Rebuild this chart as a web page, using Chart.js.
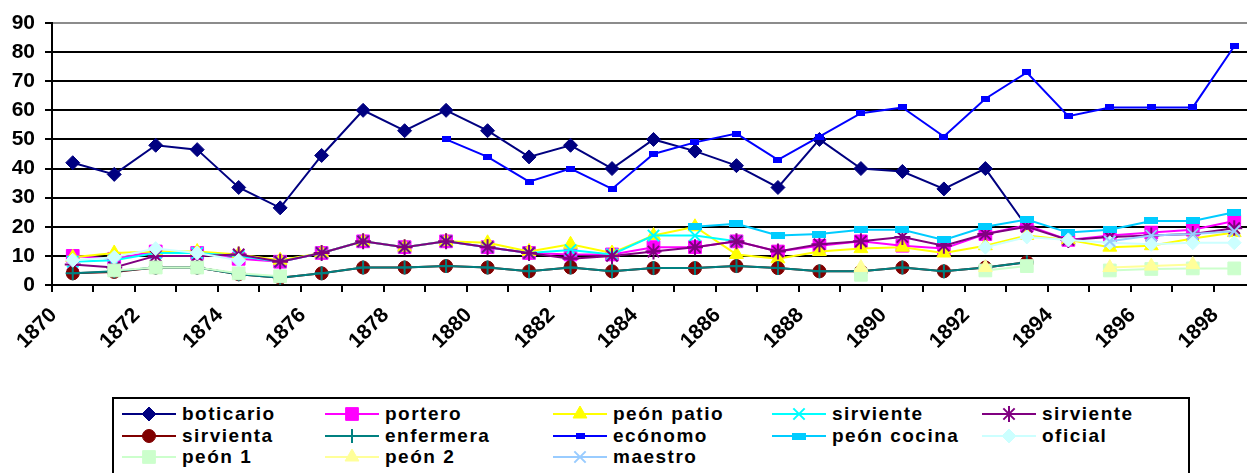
<!DOCTYPE html>
<html lang="es">
<head>
<meta charset="utf-8">
<title>Salarios 1870-1898</title>
<script src="https://cdn.jsdelivr.net/npm/chart.js@4.4.1/dist/chart.umd.min.js"></script>
<style>
    html, body { margin: 0; padding: 0; background: #fff; overflow: hidden; }
    body { width: 1247px; height: 473px; position: relative; font-family: "Liberation Sans", Arial, sans-serif; }
    #chartBox { position: absolute; left: 0; top: 0; width: 1265px; height: 380px; }
    #legend {
        position: absolute; left: 112px; top: 397px; width: 1078px; height: 78px;
        border: 2px solid #000; box-sizing: border-box; background: #fff;
    }
    .legend-item { position: absolute; height: 20px; display: flex; align-items: center; }
    .legend-item canvas { width: 54px; height: 20px; display: block; }
    .legend-item span {
        margin-left: 6px; font-weight: bold; font-size: 19px; letter-spacing: 1.5px;
        color: #000; white-space: nowrap; line-height: 20px;
    }
</style>
</head>
<body>
<div id="chartBox"><canvas id="salaryChart"></canvas></div>
<div id="legend"></div>

<script>
// ================= Data =================
const years = [
    "1870", "1871", "1872", "1873", "1874", "1875", "1876", "1877", "1878", "1879",
    "1880", "1881", "1882", "1883", "1884", "1885", "1886", "1887", "1888", "1889",
    "1890", "1891", "1892", "1893", "1894", "1895", "1896", "1897", "1898"
];
const yTicks = [0, 10, 20, 30, 40, 50, 60, 70, 80, 90];

const boticario = [42, 38, 48, 46.5, 33.5, 26.5, 44.5, 60, 53, 60, 53, 44, 48, 40, 50, 46, 41, 33.5, 50, 40,
    39, 33, 40, 20, null, null, null, null, null];
const portero = [10, 9, 11.5, 11, 9, 8, 11, 15, 13, 15, 13, 11, 10.5, 10.5, 13, 13, 15, 11.5, 13.5, 15,
    13.5, 12.5, 17.5, 20.5, 15.5, 17, 18, 19, 22];
const peonPatio = [9.5, 11, 11.5, 11.5, 10.5, 8.5, 11, 15, 13, 15, 14.5, 11.5, 14, 11, 17, 20, 10.5, 9, 11.5, 12.5,
    13, 11, 13.5, 17, 15.5, 13, 13.5, 16, 18];
const sirvienteCyan = [8, 8.5, 11, 11, 10, 8, 11, 15, 13, 15, 13, 11, 12, 10.5, 17, 17, 15, null, null, null,
    null, null, null, null, null, null, null, null, null];
const sirvientePurple = [7, 6, 10, 10, 10.5, 8, 11, 15, 13, 15, 13, 11, 9, 10, 11.5, 13, 15, 11.5, 14, 15,
    16.5, 13.5, 17.5, 20, 15.5, 16.5, 17, 17.5, 19.5];
const sirvienta = [4, 4.5, 6, 6, 3.7, 2.5, 4, 6, 6, 6.5, 6, 4.7, 6, 4.7, 5.8, 5.8, 6.5, 5.8, 4.7, 4.7,
    6, 4.7, 6, 7.8, null, null, null, null, null];
const enfermera = [4, 4.7, 6, 6, 3.7, 2.5, 4, 6, 6, 6.5, 6, 4.7, 6, 4.7, 5.8, 5.8, 6.5, 5.8, 4.7, 4.7,
    6, 4.7, 6, 7.8, null, null, null, null, null];
const economo = [null, null, null, null, null, null, null, null, null, 50, 44, 35.5, 40, 33, 45, 49, 52, 43, 51, 59,
    61, 51, 64, 73, 58, 61, 61, 61, 82];
const peonCocina = [null, null, null, null, null, null, null, null, null, null, null, null, null, null, null, 20, 21, 17, 17.5, 19,
    19, 15.5, 20, 22.5, 18, 19, 22, 22, 25];
const oficial = [8.5, 9.5, 12.5, 11, 8.5, null, null, null, null, null, null, null, null, null, null, null, null, null, null, null,
    null, null, 13, 16.5, 15.5, 14.5, 14, 14.5, 14.5];
const peon1 = [null, 5, 6, 6, 4, 3, null, null, null, null, null, null, null, null, null, null, null, null, null, 3.5,
    null, null, 5, 6.5, null, 5, 5.5, 5.7, 5.7];
const peon2 = [null, null, null, null, null, null, null, null, null, null, null, null, null, null, null, null, null, null, null, 6,
    null, null, 6, null, null, 6, 6.5, 7, null];
const maestro = [null, null, null, null, null, null, null, null, null, null, null, null, null, null, null, null, null, null, null, null,
    null, null, null, null, null, 15, 17, 17.5, 18.5];

// ================= Markers =================
function rectMarker(w, h, color) {
    const c = document.createElement("canvas");
    c.width = w;
    c.height = h;
    const ctx = c.getContext("2d");
    ctx.fillStyle = color;
    ctx.fillRect(0, 0, w, h);
    return c;
}

function serie(label, data, color, pointStyle, radius, markerWidth) {
    return {
        label: label,
        data: data,
        borderColor: color,
        backgroundColor: color,
        borderWidth: 2,
        pointStyle: pointStyle,
        pointRadius: radius,
        pointHoverRadius: radius,
        pointBackgroundColor: color,
        pointBorderColor: color,
        pointBorderWidth: markerWidth,
        tension: 0
    };
}

const series = [
    serie("boticario", boticario, "#000080", "rectRot", 7, 1),
    serie("portero", portero, "#FF00FF", "rect", 9, 1),
    serie("peón patio", peonPatio, "#FFFF00", "triangle", 8, 1),
    serie("sirviente", sirvienteCyan, "#00FFFF", "crossRot", 8, 2),
    serie("sirviente", sirvientePurple, "#800080", "star", 8, 2),
    serie("sirvienta", sirvienta, "#800000", "circle", 6.5, 1),
    serie("enfermera", enfermera, "#008080", "cross", 7, 2),
    serie("ecónomo", economo, "#0000FF", rectMarker(9, 6, "#0000FF"), 5, 1),
    serie("peón cocina", peonCocina, "#00CCFF", rectMarker(14, 7, "#00CCFF"), 7, 1),
    serie("oficial", oficial, "#CCFFFF", "rectRot", 7, 1),
    serie("peón 1", peon1, "#CCFFCC", "rect", 9, 1),
    serie("peón 2", peon2, "#FFFF99", "triangle", 8, 1),
    serie("maestro", maestro, "#99CCFF", "crossRot", 8, 2)
];

// later series are painted on top, like the original sheet
series.forEach((s, i) => { s.order = series.length - i; });

// ================= Chart =================
const salaryChart = new Chart(document.getElementById("salaryChart"), {
    type: "line",
    data: {
        labels: years,
        datasets: series
    },
    options: {
        responsive: true,
        maintainAspectRatio: false,
        animation: false,
        layout: {
            padding: { top: 23, right: 8, bottom: 0, left: 0 }
        },
        plugins: {
            legend: { display: false },
            tooltip: { enabled: false }
        },
        scales: {
            x: {
                type: "category",
                offset: true,
                afterFit: (scale) => { scale.height = 95; },
                grid: {
                    offset: true,
                    drawOnChartArea: false,
                    drawTicks: true,
                    tickLength: 7,
                    color: "#000",
                    lineWidth: 2
                },
                border: { display: true, color: "#000", width: 2 },
                ticks: {
                    autoSkip: false,
                    minRotation: 45,
                    maxRotation: 45,
                    padding: 11,
                    labelOffset: -19,
                    color: "#000",
                    font: { family: "'Liberation Sans', Arial, sans-serif", size: 21, weight: "bold" },
                    callback: function (value, index) {
                        return index % 2 === 0 ? this.getLabelForValue(value) : "";
                    }
                }
            },
            y: {
                min: yTicks[0],
                max: yTicks[yTicks.length - 1],
                afterFit: (scale) => { scale.width = 52; },
                afterBuildTicks: (scale) => { scale.ticks = yTicks.map(v => ({ value: v })); },
                grid: {
                    color: (ctx) => ctx.tick && ctx.tick.value === 90 ? "#8c8c8c" : "#000",
                    tickColor: "#000",
                    lineWidth: 2,
                    tickLength: 7
                },
                border: { display: true, color: "#000", width: 2 },
                ticks: {
                    padding: 10,
                    color: "#000",
                    font: { family: "'Liberation Sans', Arial, sans-serif", size: 21, weight: "bold" }
                }
            }
        }
    }
});

// ================= Legend =================
const legendBox = document.getElementById("legend");
const colLeft = [122, 325, 553, 772, 982];
const rowMid = [414, 436, 457];

series.forEach((s, i) => {
    const item = document.createElement("div");
    item.className = "legend-item";
    item.style.left = (colLeft[i % 5] - 112 - 2) + "px";
    item.style.top = (rowMid[Math.floor(i / 5)] - 397 - 2 - 10) + "px";

    const cv = document.createElement("canvas");
    const dpr = window.devicePixelRatio || 1;
    cv.width = 54 * dpr;
    cv.height = 20 * dpr;
    const ctx = cv.getContext("2d");
    ctx.scale(dpr, dpr);

    ctx.strokeStyle = s.borderColor;
    ctx.lineWidth = 2;
    ctx.beginPath();
    ctx.moveTo(0, 10);
    ctx.lineTo(54, 10);
    ctx.stroke();

    if (typeof s.pointStyle !== "string") {
        const img = s.pointStyle;
        ctx.drawImage(img, 27 - img.width / 2, 10 - img.height / 2);
    } else if (Chart.helpers && Chart.helpers.drawPoint) {
        ctx.fillStyle = s.pointBackgroundColor;
        ctx.strokeStyle = s.pointBorderColor;
        ctx.lineWidth = s.pointBorderWidth;
        Chart.helpers.drawPoint(ctx, {
            pointStyle: s.pointStyle,
            radius: s.pointRadius,
            borderWidth: s.pointBorderWidth,
            rotation: 0
        }, 27, 10);
    }

    const txt = document.createElement("span");
    txt.textContent = s.label;

    item.appendChild(cv);
    item.appendChild(txt);
    legendBox.appendChild(item);
});
</script>
</body>
</html>
